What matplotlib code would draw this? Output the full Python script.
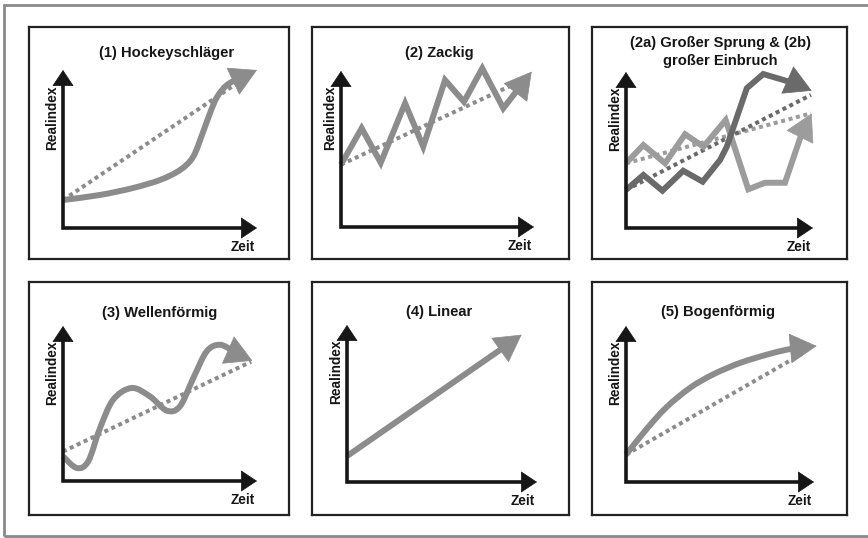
import matplotlib
matplotlib.use('Agg')
import matplotlib.pyplot as plt
import numpy as np
from matplotlib.patches import Rectangle, PathPatch
from matplotlib.path import Path

plt.rcParams['font.family'] = ['Liberation Sans', 'DejaVu Sans']

W, H = 868, 538

# titles of the six schematic panels
titles = ['(1) Hockeyschläger', '(2) Zackig', '(2a) Großer Sprung & (2b)\ngroßer Einbruch',
          '(3) Wellenförmig', '(4) Linear', '(5) Bogenförmig']
y_label = 'Realindex'
x_label = 'Zeit'

# curves in axis units (origin = 0, arrow tips of the axes = 10); last point = arrow tip
hockey_x = [0.0, 1.9, 3.6, 5.0, 6.03, 6.7, 7.2, 7.58, 7.94, 8.45, 9.12, 10.0]
hockey_y = [1.77, 2.09, 2.53, 3.04, 3.67, 4.49, 6.01, 7.28, 8.29, 9.05, 9.49, 10.0]
hockey_trend_x = [0.0, 9.23]
hockey_trend_y = [1.77, 9.37]

zack_x = [0.0, 1.07, 2.06, 3.32, 4.26, 5.39, 6.37, 7.32, 8.41, 9.27, 9.88]
zack_y = [4.0, 6.33, 4.12, 7.93, 5.15, 9.42, 8.03, 10.17, 7.61, 8.99, 9.96]
zack_trend_x = [0.0, 9.43]
zack_trend_y = [4.0, 9.42]

jump_x = [0.0, 0.93, 1.95, 3.06, 4.10, 5.03, 5.39, 6.46, 7.34, 8.41, 9.12, 9.93]
jump_y = [2.44, 3.40, 2.39, 3.67, 2.97, 4.36, 5.21, 8.96, 9.87, 9.49, 9.23, 8.80]
jump_trend_x = [0.0, 9.89]
jump_trend_y = [2.44, 8.53]

drop_x = [0.0, 0.93, 2.09, 3.16, 4.14, 5.33, 6.54, 7.43, 8.50, 9.40, 9.93]
drop_y = [4.15, 5.32, 4.15, 6.01, 5.21, 6.92, 2.48, 2.90, 2.90, 6.07, 7.35]
drop_trend_x = [0.0, 9.89]
drop_trend_y = [4.15, 7.35]

wave_x = [0.0, 0.71, 1.30, 1.91, 2.59, 3.54, 4.48, 5.35, 6.03, 6.72, 7.41, 8.09, 8.78, 8.98, 9.76]
wave_y = [1.59, 0.84, 1.27, 3.42, 5.25, 6.0, 5.46, 4.54, 4.82, 6.65, 8.37, 8.79, 8.37, 8.19, 7.76]
wave_trend_x = [0.0, 9.7]
wave_trend_y = [1.9, 7.7]

linear_x = [0.0, 8.41, 9.19]
linear_y = [1.65, 8.71, 9.38]

arc_x = [0.0, 1.10, 2.16, 3.40, 4.64, 6.06, 7.48, 8.55, 9.26, 10.14]
arc_y = [1.75, 3.40, 4.80, 6.03, 6.90, 7.63, 8.16, 8.48, 8.62, 8.72]
arc_trend_x = [0.0, 9.43]
arc_trend_y = [1.75, 8.27]

# panel layout in pixels: box (left, top, right, bottom), axis origin, axis arrow tips
boxes = [(29, 27, 289, 259), (312, 27, 569, 259), (592, 27, 847, 259),
         (29, 282, 289, 515), (312, 282, 569, 515), (592, 282, 847, 515)]
origins = [(63, 228), (341, 227), (626, 228), (63, 481), (347, 482), (626, 482)]
tips = [(257, 70), (534, 71), (813, 72), (257, 326), (537, 325), (814, 326)]
title_pos = [(167, 53), (439, 53), (720, 52), (160, 313), (439, 312), (718, 312)]

GRAY = '#8c8c8c'
DARK = '#6a6a6a'
LIGHT = '#9c9c9c'
INK = '#161616'
LW = 4.3


def head(ax, x, y, color):
    ax.annotate('', xy=(x[-1], y[-1]), xytext=(x[-2], y[-2]),
                arrowprops=dict(arrowstyle='-|>,head_length=0.8,head_width=0.45',
                                mutation_scale=23, lw=0.5, color=color,
                                shrinkA=0, shrinkB=0), zorder=3)


def curve(ax, x, y, color):
    # straight segments (zigzag), ends in an arrow head
    ax.plot(x[:-1], y[:-1], color=color, lw=LW, solid_joinstyle='miter',
            solid_capstyle='butt', zorder=3)
    head(ax, x, y, color)


def smooth_curve(ax, x, y, color):
    # smooth Bezier path through the read points, ends in an arrow head
    p = np.column_stack([x, y])
    verts = [p[0]]
    codes = [Path.MOVETO]
    for i in range(len(p) - 2):
        p0 = p[i - 1] if i > 0 else p[i]
        p3 = p[i + 2]
        verts += [p[i] + (p[i + 1] - p0) / 6, p[i + 1] - (p3 - p[i]) / 6, p[i + 1]]
        codes += [Path.CURVE4] * 3
    ax.add_patch(PathPatch(Path(verts, codes), fill=False, ec=color, lw=LW,
                           capstyle='butt', joinstyle='round', zorder=3))
    head(ax, x, y, color)


def trend(ax, x, y, color):
    ax.plot(x, y, color=color, lw=2.9, linestyle=(0, (1, 0.9)),
            dash_capstyle='butt', zorder=2)


fig = plt.figure(figsize=(W / 100, H / 100), dpi=100)
fig.add_artist(Rectangle((4 / W, 1 - 536 / H), 870 / W, 531 / H, transform=fig.transFigure,
                         fill=False, ec='#8a8a8a', lw=2))

axes = []
for i, (l, t, r, b) in enumerate(boxes):
    ax = fig.add_axes([l / W, 1 - b / H, (r - l) / W, (b - t) / H])
    ox, oy = origins[i]
    xt, yt = tips[i]
    ux = (xt - ox) / 10
    uy = (oy - yt) / 10
    ax.set_xlim((l - ox) / ux, (r - ox) / ux)
    ax.set_ylim((oy - b) / uy, (oy - t) / uy)
    ax.set_xticks([])
    ax.set_yticks([])
    for s in ax.spines.values():
        s.set_linewidth(1.6)
        s.set_color('#222222')
    # axis arrows
    ax.plot([0, 0, 9.5], [9.5, 0, 0], color=INK, lw=2.6, solid_joinstyle='miter',
            solid_capstyle='projecting', zorder=4)
    for tip in [(10, 0), (0, 10)]:
        ax.annotate('', xy=tip, xytext=(0, 0),
                    arrowprops=dict(arrowstyle='-|>,head_length=0.6,head_width=0.4',
                                    mutation_scale=18, lw=0.5, color=INK,
                                    shrinkA=0, shrinkB=0), zorder=4)
    ax.annotate(y_label, xy=(0, 7), xytext=(-11, 0), textcoords='offset pixels',
                rotation=90, ha='center', va='center', fontsize=9.8,
                fontweight='bold', color=INK)
    ax.annotate(x_label, xy=(10, 0), xytext=(-2, -19), textcoords='offset pixels',
                ha='right', va='center', fontsize=9.8, fontweight='bold', color=INK)
    tx, ty = title_pos[i]
    ax.text((tx - l) / (r - l), (b - ty) / (b - t), titles[i], transform=ax.transAxes,
            ha='center', va='center', fontsize=10.6, fontweight='bold', color=INK,
            linespacing=1.3)
    axes.append(ax)

trend(axes[0], hockey_trend_x, hockey_trend_y, GRAY)
smooth_curve(axes[0], hockey_x, hockey_y, GRAY)

trend(axes[1], zack_trend_x, zack_trend_y, GRAY)
curve(axes[1], zack_x, zack_y, GRAY)

trend(axes[2], drop_trend_x, drop_trend_y, LIGHT)
trend(axes[2], jump_trend_x, jump_trend_y, DARK)
curve(axes[2], drop_x, drop_y, LIGHT)
curve(axes[2], jump_x, jump_y, DARK)

trend(axes[3], wave_trend_x, wave_trend_y, GRAY)
smooth_curve(axes[3], wave_x, wave_y, GRAY)

curve(axes[4], linear_x, linear_y, GRAY)

trend(axes[5], arc_trend_x, arc_trend_y, GRAY)
smooth_curve(axes[5], arc_x, arc_y, GRAY)

fig.savefig('out.png', dpi=100)
